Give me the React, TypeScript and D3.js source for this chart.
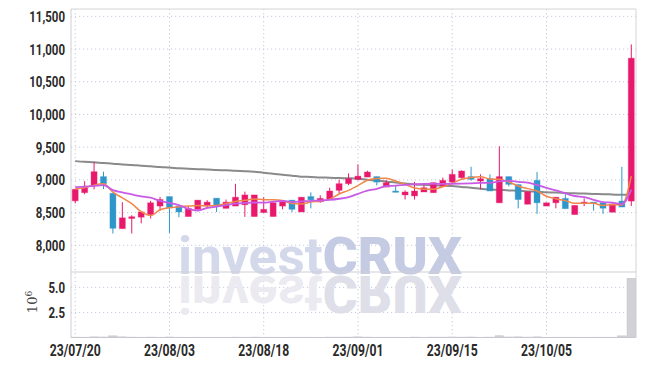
import React from "react";
import * as d3 from "d3";

const dates = [
  "23/07/20","23/07/21","23/07/24","23/07/25","23/07/26","23/07/27","23/07/28","23/07/31",
  "23/08/01","23/08/02","23/08/03","23/08/04","23/08/07","23/08/08","23/08/09","23/08/10","23/08/11","23/08/14","23/08/16","23/08/17","23/08/18","23/08/21","23/08/22","23/08/23","23/08/24","23/08/25","23/08/28","23/08/29","23/08/30","23/08/31",
  "23/09/01","23/09/04","23/09/05","23/09/06","23/09/07","23/09/08","23/09/11","23/09/12","23/09/13","23/09/14","23/09/15","23/09/18","23/09/19","23/09/20","23/09/21","23/09/22","23/09/25","23/09/26","23/09/27",
  "23/10/04","23/10/05","23/10/06","23/10/10","23/10/11","23/10/12","23/10/13","23/10/16","23/10/17","23/10/18","23/10/19",
];

const opens = [
  8680, 8805, 8916, 9050, 8795, 8255, 8410, 8430, 8470, 8600,
  8745, 8600, 8440, 8550, 8610, 8720, 8565, 8600, 8620, 8440,
  8500, 8440, 8600, 8690, 8510, 8745, 8667, 8700, 8840, 8942,
  9007, 9043, 9050, 8890, 8830, 8770, 8755, 8815, 8805, 8905,
  8966, 9033, 9050, 8982, 9018, 8650, 9050, 8928, 8628, 8992,
  8600, 8650, 8717, 8470, 8640, 8660, 8650, 8506, 8676, 8676,
];
const highs = [
  8860, 8980, 9270, 9125, 8795, 8660, 8460, 8515, 8680, 8740,
  8745, 8600, 8600, 8690, 8690, 8720, 8700, 8940, 8820, 8770,
  8735, 8660, 8690, 8690, 8735, 8810, 8765, 8880, 9000, 9100,
  9237, 9140, 9050, 9000, 8905, 8840, 8970, 8935, 8960, 9035,
  9160, 9145, 9200, 9085, 9084, 9515, 9050, 8930, 8820, 9120,
  8650, 8740, 8780, 8610, 8717, 8660, 8660, 8640, 9200, 11070,
];
const lows = [
  8640, 8780, 8855, 8860, 8180, 8255, 8180, 8335, 8410, 8530,
  8190, 8430, 8440, 8545, 8565, 8510, 8565, 8600, 8435, 8440,
  8500, 8440, 8550, 8510, 8510, 8565, 8650, 8700, 8790, 8920,
  8990, 9043, 8915, 8890, 8810, 8700, 8700, 8815, 8804, 8905,
  8950, 9020, 8990, 8855, 8830, 8650, 8900, 8565, 8628, 8480,
  8600, 8565, 8560, 8470, 8598, 8530, 8480, 8506, 8585, 8600,
];
const closes = [
  8855, 8880, 9125, 8940, 8260, 8420, 8437, 8510, 8650, 8700,
  8575, 8510, 8565, 8690, 8660, 8610, 8660, 8735, 8770, 8770,
  8550, 8650, 8676, 8550, 8735, 8695, 8717, 8830, 8942, 9018,
  9057, 9120, 8966, 8957, 8810, 8815, 8830, 8880, 8957, 8992,
  9084, 9135, 9008, 9018, 8830, 9050, 8932, 8700, 8820, 8650,
  8650, 8735, 8560, 8610, 8660, 8640, 8567, 8630, 8585, 10860,
];
const volumes = [
  0.04e6, 0.03e6, 0.06e6, 0.05e6, 0.16e6, 0.06e6, 0.04e6, 0.03e6, 0.04e6, 0.03e6,
  0.05e6, 0.03e6, 0.02e6, 0.03e6, 0.02e6, 0.03e6, 0.02e6, 0.04e6, 0.03e6, 0.04e6,
  0.03e6, 0.03e6, 0.02e6, 0.03e6, 0.03e6, 0.03e6, 0.02e6, 0.04e6, 0.04e6, 0.04e6,
  0.06e6, 0.04e6, 0.03e6, 0.03e6, 0.03e6, 0.02e6, 0.04e6, 0.03e6, 0.04e6, 0.04e6,
  0.05e6, 0.04e6, 0.05e6, 0.03e6, 0.04e6, 0.17e6, 0.05e6, 0.06e6, 0.04e6, 0.06e6,
  0.02e6, 0.03e6, 0.03e6, 0.03e6, 0.02e6, 0.03e6, 0.03e6, 0.03e6, 0.16e6, 5.9e6,
];
// moving averages whose window reaches before the shown range
const ma5Head = [8865, 8880, 8920, 8940];
const ma10Head = [8890, 8897, 8908, 8920, 8844, 8809, 8778, 8748, 8728];
const ma60 = [
  9287, 9276, 9268, 9257, 9248, 9236, 9228, 9216, 9208, 9196,
  9188, 9177, 9171, 9164, 9159, 9151, 9146, 9138, 9133, 9125,
  9109, 9095, 9078, 9065, 9049, 9045, 9038, 9034, 9027, 9024,
  9018, 9002, 8990, 8973, 8961, 8944, 8931, 8925, 8917, 8912,
  8905, 8891, 8881, 8866, 8855, 8848, 8839, 8833, 8824, 8819,
  8811, 8807, 8799, 8794, 8791, 8785, 8782, 8776, 8771, 8774,
];

const xTickLabels = ["23/07/20", "23/08/03", "23/08/18", "23/09/01", "23/09/15", "23/10/05"];
const priceTicks = [8000, 8500, 9000, 9500, 10000, 10500, 11000, 11500];
const volTicks = [2.5e6, 5e6];

const W = 645, H = 366;
const L = 71, R = 636, TOP = 9, MID = 272, BOT = 337.5;
const PINK = "#e8196c", BLUE = "#2f96c9";
const LABEL_FONT = "Roboto, 'DejaVu Sans', sans-serif";
const SX = 0.74;

export default function App() {
  const x = d3.scaleBand<string>().domain(dates).range([70.5, R]).padding(0);
  const cx = (d: string) => (x(d) as number) + x.bandwidth() / 2;
  const yP = d3.scaleLinear().domain([7592, 11612]).range([MID, TOP]);
  const yV = d3.scaleLinear().domain([0, 6.53e6]).range([BOT, MID]);

  const ma5 = closes.map((_, i) => (i < 4 ? ma5Head[i] : (d3.mean(closes.slice(i - 4, i + 1)) as number)));
  const ma10 = closes.map((_, i) => (i < 9 ? ma10Head[i] : (d3.mean(closes.slice(i - 9, i + 1)) as number)));

  const line = (vals: number[]) =>
    d3.line<number>().x((_, i) => cx(dates[i])).y((v) => yP(v)).curve(d3.curveMonotoneX)(vals) || "";

  const bodyW = 6;
  const volW = x.bandwidth() * 0.9;
  const grid = "#c3c8dc";
  const fmt = d3.format(",");
  const WM_BASE = 274;

  return (
    <svg width={W} height={H} style={{ position: "absolute", left: 0, top: 0, background: "#fff" }}>
      {/* grid */}
      {priceTicks.map((t) => (
        <line key={"gp" + t} x1={L} x2={R} y1={yP(t)} y2={yP(t)} stroke={grid} strokeWidth={1} strokeDasharray="1.2,2.8" />
      ))}
      {volTicks.map((t) => (
        <line key={"gv" + t} x1={L} x2={R} y1={yV(t)} y2={yV(t)} stroke={grid} strokeWidth={1} strokeDasharray="1.2,2.8" />
      ))}
      {xTickLabels.map((d) => (
        <line key={"gx" + d} x1={cx(d)} x2={cx(d)} y1={TOP} y2={BOT} stroke={grid} strokeWidth={1} strokeDasharray="1.2,2.8" />
      ))}

      {/* watermark */}
      <g>
        <text x={178} y={WM_BASE} fontFamily="Roboto, 'DejaVu Sans', sans-serif" fontSize={52} textLength={284} lengthAdjust="spacingAndGlyphs">
          <tspan fill="#d4d8eb" fontWeight={700}>invest</tspan>
          <tspan fill="#c6cbe4" fontWeight={900}>CRUX</tspan>
        </text>
        <g transform={`translate(0, ${2 * (WM_BASE + 1)}) scale(1,-1)`}>
          <text x={178} y={WM_BASE} fontFamily="Roboto, 'DejaVu Sans', sans-serif" fontSize={52} textLength={284} lengthAdjust="spacingAndGlyphs">
            <tspan fill="#eaeaf0" fontWeight={700}>invest</tspan>
            <tspan fill="#dedfe8" fontWeight={900}>CRUX</tspan>
          </text>
        </g>
      </g>

      {/* panel frame */}
      <line x1={L} x2={R} y1={TOP} y2={TOP} stroke="#d4d4d4" />
      <line x1={L} x2={R} y1={MID} y2={MID} stroke="#cfcfd6" />
      <line x1={L} x2={R} y1={BOT} y2={BOT} stroke="#cfcfd6" />
      <line x1={L} x2={L} y1={TOP} y2={BOT} stroke="#cfcfd6" />
      <line x1={R} x2={R} y1={TOP} y2={BOT} stroke="#d4d4d4" />

      {/* volume */}
      {volumes.map((v, i) => (
        <rect key={"v" + i} x={cx(dates[i]) - volW / 2} y={yV(v)} width={volW} height={BOT - yV(v)} fill="#d2d2d6" stroke="#bdbdc4" strokeWidth={0.5} />
      ))}

      {/* long MA */}
      <path d={line(ma60)} fill="none" stroke="#8a8a8a" strokeWidth={2} />

      {/* candles */}
      {dates.map((d, i) => {
        const up = closes[i] >= opens[i];
        const c = up ? PINK : BLUE;
        const top = yP(Math.max(opens[i], closes[i]));
        const bot = yP(Math.min(opens[i], closes[i]));
        return (
          <g key={"c" + i}>
            <line x1={cx(d)} x2={cx(d)} y1={yP(highs[i])} y2={yP(lows[i])} stroke={c} strokeWidth={1} />
            <rect x={cx(d) - bodyW / 2} y={top} width={bodyW} height={Math.max(1, bot - top)} fill={c} stroke={c} strokeOpacity={0.35} strokeWidth={1} />
          </g>
        );
      })}

      {/* short MAs */}
      <path d={line(ma5)} fill="none" stroke="#f0874a" strokeWidth={1.5} />
      <path d={line(ma10)} fill="none" stroke="#c95ae6" strokeWidth={1.8} />

      {/* y axis labels */}
      {priceTicks.map((t) => (
        <text key={"yl" + t} transform={`translate(65, ${yP(t) + 5.5}) scale(${SX},1)`} textAnchor="end" fontFamily={LABEL_FONT} fontWeight={700} fontSize={15.5} fill="#2a2a2a">
          {fmt(t)}
        </text>
      ))}
      {volTicks.map((t) => (
        <text key={"vl" + t} transform={`translate(65, ${yV(t) + 5.5}) scale(${SX},1)`} textAnchor="end" fontFamily={LABEL_FONT} fontWeight={700} fontSize={15.5} fill="#2a2a2a">
          {(t / 1e6).toFixed(1)}
        </text>
      ))}
      <text transform={`translate(37, 302) rotate(-90)`} textAnchor="middle" fontFamily="'DejaVu Serif', serif" fontSize={13} fill="#444">
        10<tspan dy={-5} fontSize={9}>6</tspan>
      </text>

      {/* x axis labels */}
      {xTickLabels.map((d) => (
        <text key={"xl" + d} transform={`translate(${cx(d)}, 355.5) scale(${SX},1)`} textAnchor="middle" fontFamily={LABEL_FONT} fontWeight={700} fontSize={16.5} fill="#2a2a2a">
          {d}
        </text>
      ))}
    </svg>
  );
}
